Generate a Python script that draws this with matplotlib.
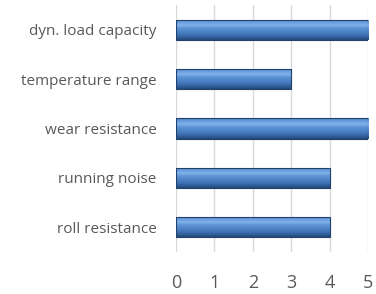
import numpy as np
import matplotlib
matplotlib.use("Agg")
import matplotlib.pyplot as plt
from matplotlib.colors import LinearSegmentedColormap

# data (bottom to top)
categories = ["roll resistance", "running noise", "wear resistance",
              "temperature range", "dyn. load capacity"]
values = [4, 4, 5, 3, 5]
xticks = [0, 1, 2, 3, 4, 5]

plt.rcParams["font.family"] = ["Open Sans", "DejaVu Sans"]

fig = plt.figure(figsize=(3.76, 2.94), dpi=100)
ax = fig.add_axes([0.468, 0.143, 0.511, 0.840])

bar_h = 0.41
bars = ax.barh(range(len(categories)), values, height=bar_h,
               facecolor="none", edgecolor="#22426b", linewidth=0.8, zorder=4)

# bevel-like gradient on each bar (bottom -> top)
cmap = LinearSegmentedColormap.from_list(
    "bev", ["#244a78", "#3462a0", "#4479bb", "#4f86c8", "#5e94d6",
            "#80b1ea", "#6a9dde", "#4f83c4"])
grad = np.linspace(0, 1, 64).reshape(-1, 1)
for b in bars:
    x0, y0 = b.get_x(), b.get_y()
    w, h = b.get_width(), b.get_height()
    im = ax.imshow(grad, cmap=cmap, aspect="auto", origin="lower",
                   extent=[x0, x0 + w, y0, y0 + h], zorder=3)
    im.set_clip_path(b)

ax.set_xlim(0, 5)
ax.set_ylim(-0.5, 4.5)
ax.set_aspect("auto")
ax.set_xticks(xticks)
ax.set_yticks(range(len(categories)))
ax.set_yticklabels(categories, fontsize=11, color="#595959")
ax.set_xticklabels([str(t) for t in xticks], fontsize=13, color="#595959")
ax.tick_params(length=0)
ax.tick_params(axis="x", pad=16)
ax.tick_params(axis="y", pad=14)
ax.grid(axis="x", color="#d9d9d9", linewidth=1, zorder=0)
for s in ax.spines.values():
    s.set_visible(False)

fig.savefig("out.png", dpi=100)
